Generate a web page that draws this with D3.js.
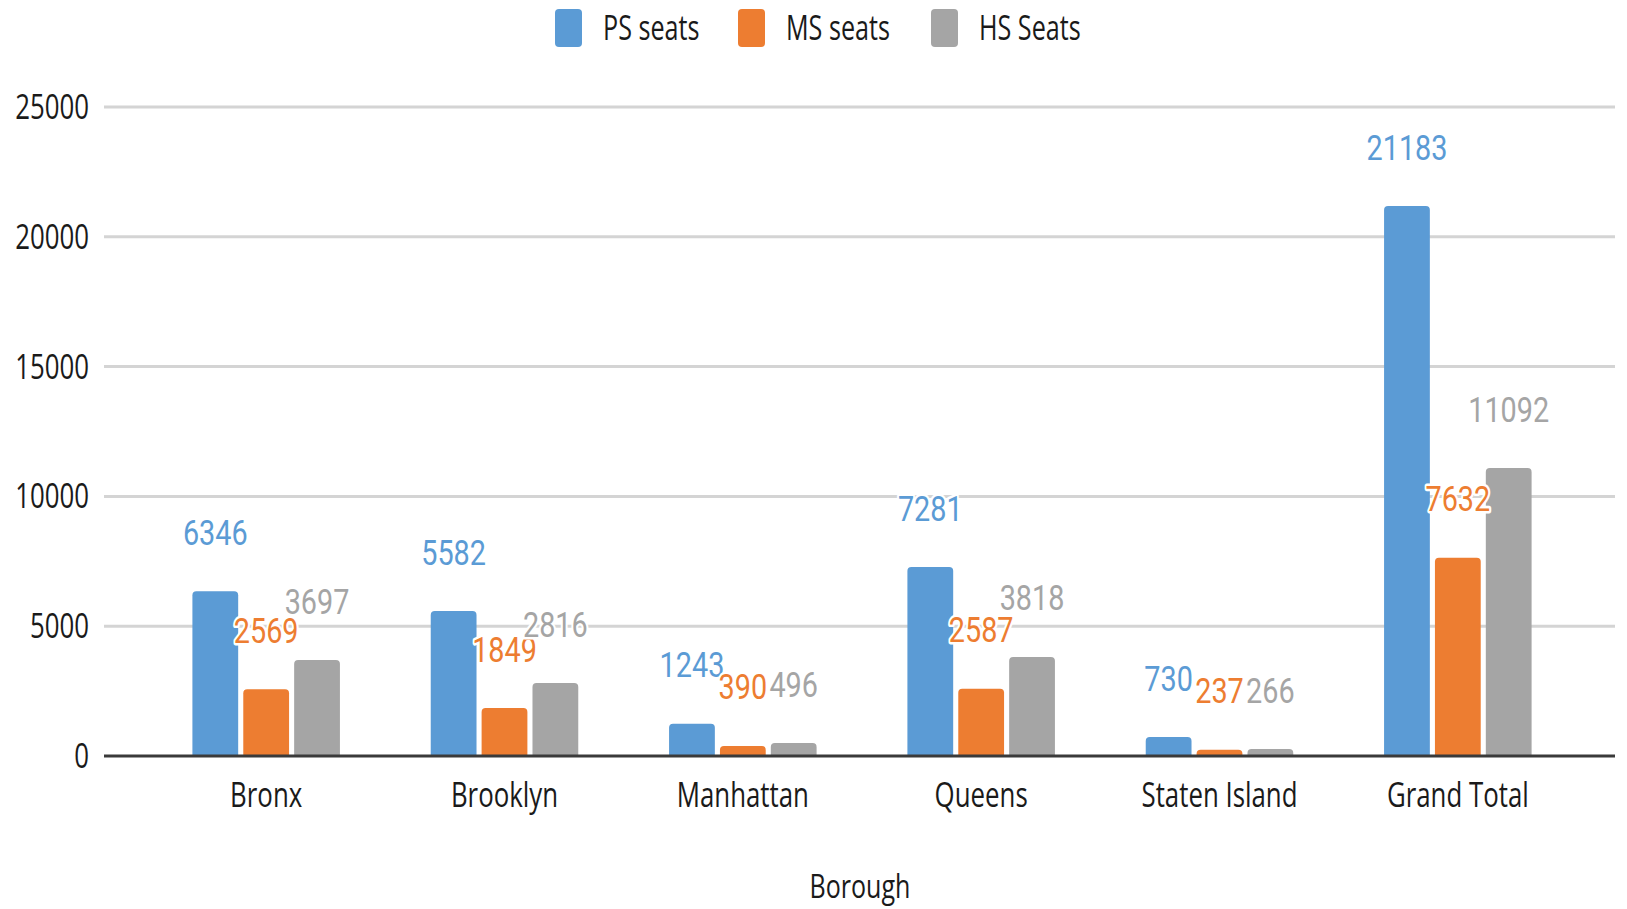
<!DOCTYPE html>
<html><head><meta charset="utf-8">
<script src="https://cdn.jsdelivr.net/npm/d3@7"></script>
<style>body{margin:0;background:#fff;}svg{display:block;}</style>
</head><body>
<svg id="c" width="1627" height="909"></svg>
<script>
const categories = ["Bronx","Brooklyn","Manhattan","Queens","Staten Island","Grand Total"];
const seriesNames = ["PS seats","MS seats","HS Seats"];
const psSeats = [6346,5582,1243,7281,730,21183];
const msSeats = [2569,1849,390,2587,237,7632];
const hsSeats = [3697,2816,496,3818,266,11092];
const yTicks = [0,5000,10000,15000,20000,25000];
const colors = ["#5B9BD5","#ED7D31","#A5A5A5"];
const axisTitle = "Borough";

const svg = d3.select("#c");
const values = [psSeats, msSeats, hsSeats];

const y = d3.scaleLinear().domain([0,25000]).range([756,107]);
const x0 = d3.scaleBand().domain(categories).range([147,1577]).paddingInner(0.381).paddingOuter(0.1905);
const x1 = d3.scaleBand().domain(seriesNames).range([0,x0.bandwidth()]).paddingInner(0.1);

const SX = 0.76;
function stxt(g, x, yy, s, opts) {
  const gg = g.append("g").attr("transform", `translate(${x},${yy}) scale(${opts.sx||SX},1)`);
  const t = gg.append("text").text(s)
    .attr("text-anchor", opts.anchor||"middle")
    .attr("dy", "0.35em")
    .attr("font-family", opts.family||"'Open Sans', sans-serif")
    .attr("font-size", opts.size||34)
    .attr("fill", opts.fill||"#1a1a1a");
  if (opts.halo) t.attr("stroke","#fff").attr("stroke-width",5).attr("paint-order","stroke").attr("stroke-linejoin","round");
  return t;
}

// gridlines
const grid = svg.append("g");
grid.selectAll("line").data(yTicks.filter(d=>d>0)).join("line")
  .attr("x1",104).attr("x2",1615)
  .attr("y1",d=>y(d)).attr("y2",d=>y(d))
  .attr("stroke","#d4d4d4").attr("stroke-width",3);

// y tick labels
const yl = svg.append("g");
yTicks.forEach(t => stxt(yl, 89, y(t), String(t), {anchor:"end", size:34}));

// bars
function barPath(x, w, yt, yb, r) {
  r = Math.min(r, (yb-yt), w/2);
  return `M${x},${yb}V${yt+r}Q${x},${yt} ${x+r},${yt}H${x+w-r}Q${x+w},${yt} ${x+w},${yt+r}V${yb}Z`;
}
const bars = svg.append("g");
categories.forEach((c,i) => {
  seriesNames.forEach((s,j) => {
    const v = values[j][i];
    bars.append("path")
      .attr("d", barPath(x0(c)+x1(s), x1.bandwidth(), y(v), y(0), 4))
      .attr("fill", colors[j]);
  });
});

// axis baseline
svg.append("line").attr("x1",104).attr("x2",1615).attr("y1",y(0)).attr("y2",y(0))
  .attr("stroke","#3a3a3a").attr("stroke-width",3);

// data labels
const lab = svg.append("g");
categories.forEach((c,i) => {
  seriesNames.forEach((s,j) => {
    const v = values[j][i];
    stxt(lab, x0(c)+x1(s)+x1.bandwidth()/2, y(v)-59, String(v),
      {family:"Roboto, sans-serif", size:36, sx:0.8, fill:colors[j], halo:true});
  });
});

// category labels
const cl = svg.append("g");
categories.forEach(c => stxt(cl, x0(c)+x0.bandwidth()/2, 795, c, {size:34}));

// axis title
stxt(svg, 860, 886, axisTitle, {size:33});

// legend
const legX = [555, 738, 931];
const lg = svg.append("g");
seriesNames.forEach((s,j) => {
  lg.append("rect").attr("x",legX[j]).attr("y",9).attr("width",27).attr("height",38)
    .attr("rx",4).attr("fill",colors[j]);
  stxt(lg, legX[j]+48, 28, s, {anchor:"start", size:34, sx:0.74});
});
</script>
</body></html>
